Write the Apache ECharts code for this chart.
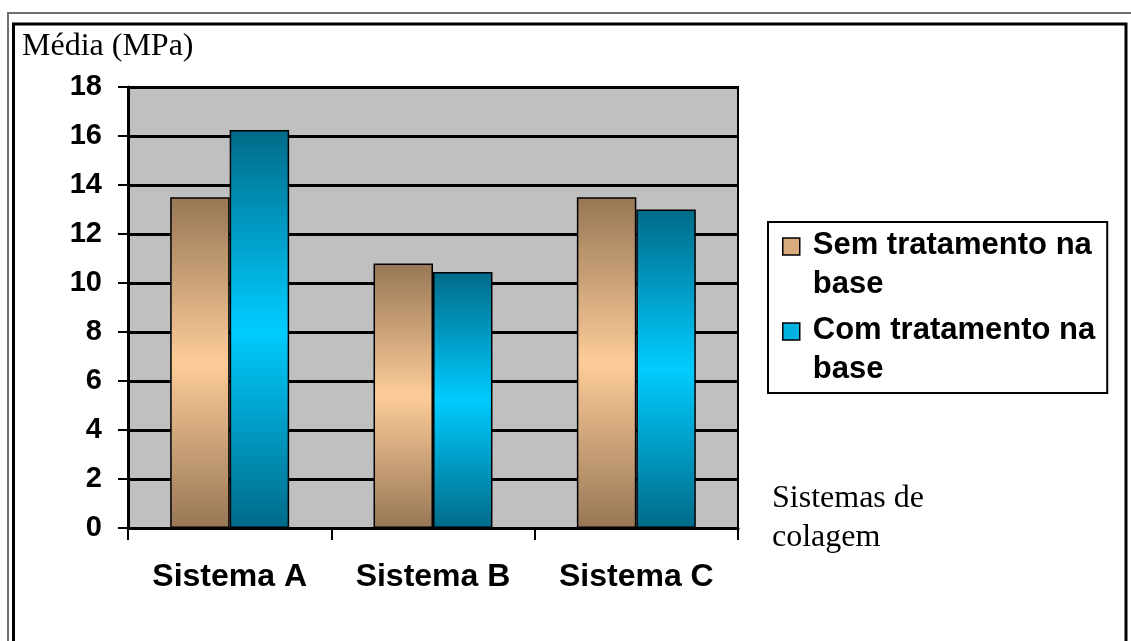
<!DOCTYPE html>
<html>
<head>
<meta charset="utf-8">
<script src="https://cdn.jsdelivr.net/npm/echarts@6/dist/echarts.min.js"></script>
<style>
  html, body { margin: 0; padding: 0; background: #fff; }
  #chart { width: 1131px; height: 641px; }
</style>
</head>
<body>
<div id="chart"></div>
<script>
// Bond strength means (MPa) per bonding system
const categories = ['Sistema A', 'Sistema B', 'Sistema C'];
const seriesNames = ['Sem tratamento na base', 'Com tratamento na base'];
const semTratamento = [13.5, 10.8, 13.5];
const comTratamento = [16.25, 10.45, 13.0];
const yTicks = [0, 2, 4, 6, 8, 10, 12, 14, 16, 18];

const SANS = "'Liberation Sans', Arial, sans-serif";
const SERIF = "'Liberation Serif', 'Times New Roman', serif";

// vertical gradient: dark at both ends, light in the middle
function band(dark, light) {
  return {
    type: 'linear', x: 0, y: 0, x2: 0, y2: 1,
    colorStops: [
      { offset: 0, color: dark },
      { offset: 0.5, color: light },
      { offset: 1, color: dark }
    ]
  };
}

// break "xxx na base" into two lines
function wrapName(name) {
  const i = name.lastIndexOf(' ');
  return name.slice(0, i) + '\n' + name.slice(i + 1);
}

const chart = echarts.init(document.getElementById('chart'), null, { renderer: 'canvas' });

chart.setOption({
  animation: false,
  backgroundColor: '#fff',
  title: [
    {
      text: 'Média (MPa)', left: 22, top: 30, padding: 0,
      textStyle: { fontFamily: SERIF, fontSize: 32, fontWeight: 'normal', color: '#000', lineHeight: 34 }
    },
    {
      text: 'Sistemas de\ncolagem', left: 772, top: 479, padding: 0,
      textStyle: { fontFamily: SERIF, fontSize: 32, fontWeight: 'normal', color: '#000', lineHeight: 39 }
    }
  ],
  graphic: [
    { type: 'rect', shape: { x: 8, y: 13, width: 1200, height: 800 }, style: { fill: 'none', stroke: '#6f6f6f', lineWidth: 2 }, silent: true },
    { type: 'rect', shape: { x: 13.5, y: 24, width: 1112.5, height: 800 }, style: { fill: 'none', stroke: '#000', lineWidth: 3 }, silent: true }
  ],
  grid: {
    left: 128, right: 393, top: 87, bottom: 113,
    show: true, backgroundColor: '#c0c0c0', borderColor: '#000', borderWidth: 2
  },
  legend: {
    orient: 'vertical', left: 768, top: 222,
    padding: [4, 12, 4, 14], itemGap: 7,
    borderColor: '#000', borderWidth: 2, backgroundColor: '#fff',
    itemWidth: 25, itemHeight: 54,
    icon: 'path://M0,0L17,0L17,17L0,17Z M25,54L25,54',
    selectedMode: false,
    textStyle: { fontFamily: SANS, fontSize: 31, fontWeight: 'bold', color: '#000', lineHeight: 39 },
    formatter: wrapName,
    data: [
      { name: seriesNames[0], itemStyle: { color: '#d9aa7b', borderColor: '#000', borderWidth: 1.5 } },
      { name: seriesNames[1], itemStyle: { color: '#00b2e0', borderColor: '#000', borderWidth: 1.5 } }
    ]
  },
  xAxis: {
    type: 'category',
    data: categories,
    axisLine: { show: true, lineStyle: { color: '#000', width: 3 } },
    axisTick: { show: true, length: 12, lineStyle: { color: '#000', width: 2 } },
    axisLabel: { fontFamily: SANS, fontSize: 32, fontWeight: 'bold', color: '#000', margin: 33 },
    splitLine: { show: false }
  },
  yAxis: {
    type: 'value',
    min: yTicks[0], max: yTicks[yTicks.length - 1], interval: yTicks[1] - yTicks[0],
    axisLine: { show: true, lineStyle: { color: '#000', width: 3 } },
    axisTick: { show: true, length: 10, lineStyle: { color: '#000', width: 2 } },
    axisLabel: { fontFamily: SANS, fontSize: 29, fontWeight: 'bold', color: '#000', margin: 26 },
    splitLine: { show: true, lineStyle: { color: '#000', width: 3 } }
  },
  series: [
    {
      name: seriesNames[0], type: 'bar', data: semTratamento,
      barGap: '0%', barCategoryGap: '41.5%',
      itemStyle: { color: band('#977756', '#fdcc99'), borderColor: '#000', borderWidth: 1.5 }
    },
    {
      name: seriesNames[1], type: 'bar', data: comTratamento,
      barGap: '0%', barCategoryGap: '41.5%',
      itemStyle: { color: band('#006a88', '#00ccff'), borderColor: '#000', borderWidth: 1.5 }
    }
  ]
});
</script>
</body>
</html>
